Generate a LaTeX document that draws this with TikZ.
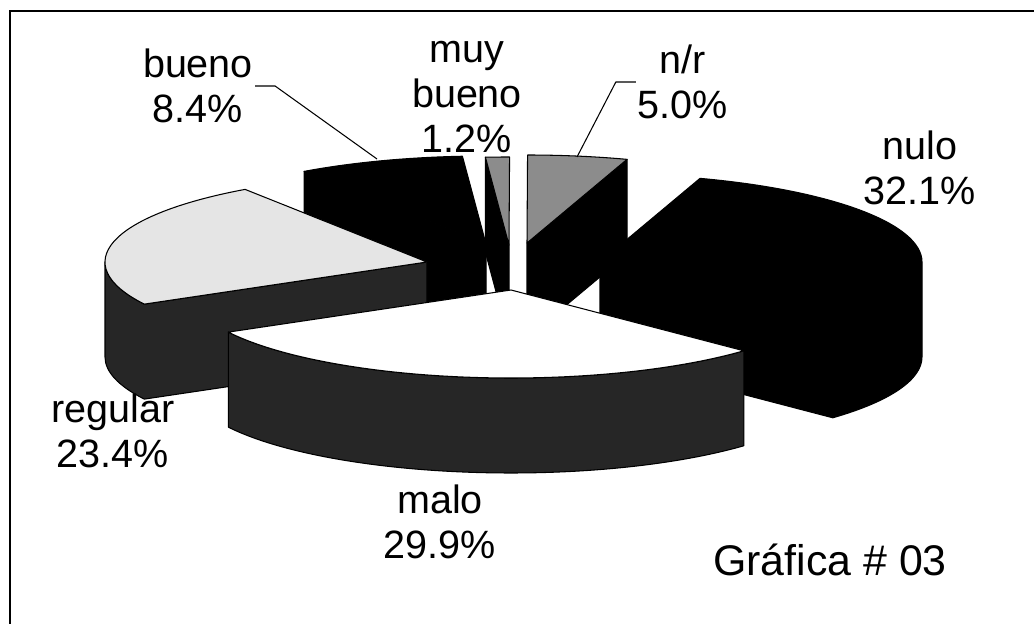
\documentclass[tikz,border=0pt]{standalone}
\usepackage{fontspec}
\setmainfont{Liberation Sans}
\usetikzlibrary{calc}
\colorlet{sidegray}{black!85}
\colorlet{lightface}{black!10}
\colorlet{midgray}{black!45}
\tikzset{pie/.style={x radius=322,y radius=88},
  slice/.style={draw=black,line width=0.6pt,line join=round},
  pielabel/.style={font=\fontsize{22.5}{25.5}\selectfont,align=center,inner sep=1pt},
  leader/.style={draw,line width=0.6pt}}

\begin{document}
\begin{tikzpicture}[x=0.02cm,y=-0.02cm]
    \useasboundingbox (0,0) rectangle (1034,624);
    \draw[line width=0.8pt] (10,11) rectangle (1060,650);
    \coordinate (cbue) at (486,244);
    \coordinate (cmuy) at (509,245);
    \coordinate (cnr) at (527,243);
    \coordinate (cnul) at (600,262);
    \coordinate (creg) at (427,262);
    \coordinate (cmal) at (511,290);
    % bueno
    \filldraw[slice,fill=black] (cbue) -- ++(235.6:322 and 88) -- ++(0,95) -- ($(cbue)+(0,95)$) -- cycle;
    \filldraw[slice,fill=black] (cbue) -- ++(235.6:322 and 88) arc[pie,start angle=235.6,end angle=265.8] -- cycle;
    % muy bueno
    \filldraw[slice,fill=black] (cmuy) -- ++(265.8:322 and 88) -- ++(0,95) -- ($(cmuy)+(0,95)$) -- cycle;
    \filldraw[slice,fill=midgray] (cmuy) -- ++(265.8:322 and 88) arc[pie,start angle=265.8,end angle=270.1] -- cycle;
    % n/r
    \filldraw[slice,fill=black] (cnr) -- ++(288.1:322 and 88) -- ++(0,95) -- ($(cnr)+(0,95)$) -- cycle;
    \filldraw[slice,fill=midgray] (cnr) -- ++(270.1:322 and 88) arc[pie,start angle=270.1,end angle=288.1] -- cycle;
    % nulo
    \filldraw[slice,fill=black] (cnul) -- ++(288.1:322 and 88) arc[pie,start angle=288.1,end angle=360] -- ++(0,95) arc[pie,start angle=360,end angle=403.7] -- ($(cnul)+(0,95)$) -- cycle;
    % regular
    \filldraw[slice,fill=sidegray] (creg) -- ++(151.4:322 and 88) arc[pie,start angle=151.4,end angle=180] -- ++(0,95) arc[pie,start angle=180,end angle=151.4] -- ($(creg)+(0,95)$) -- cycle;
    \filldraw[slice,fill=lightface] (creg) -- ++(151.4:322 and 88) arc[pie,start angle=151.4,end angle=235.6] -- cycle;
    % malo
    \filldraw[slice,fill=sidegray] (cmal) ++(43.7:322 and 88) arc[pie,start angle=43.7,end angle=151.4] -- ++(0,95) arc[pie,start angle=151.4,end angle=43.7] -- cycle;
    \filldraw[slice,fill=white] (cmal) -- ++(43.7:322 and 88) arc[pie,start angle=43.7,end angle=151.4] -- cycle;

    \coordinate (pbueno) at (377,159);
    \coordinate (pnr) at (577,157);
    \node[pielabel] (bueno) at (198,86) {bueno\\8.4\%};
    \node[pielabel] (muybueno) at (467,97) {muy\\bueno\\1.2\%};
    \node[pielabel] (nr) at (683,82) {n/r\\5.0\%};
    \node[pielabel] (nulo) at (920,168) {nulo\\32.1\%};
    \node[pielabel] (regular) at (113,431) {regular\\23.4\%};
    \node[pielabel] (malo) at (440,522) {malo\\29.9\%};
    \node[anchor=base west,inner sep=0pt,font=\fontsize{24.4}{28}\selectfont] (titulo) at (713,575) {Gráfica \# 03};
    \draw[leader] (bueno.east) -- ++(20,0) -- (pbueno);
    \draw[leader] (nr.west) -- ++(-20,0) -- (pnr);
\end{tikzpicture}
\end{document}
